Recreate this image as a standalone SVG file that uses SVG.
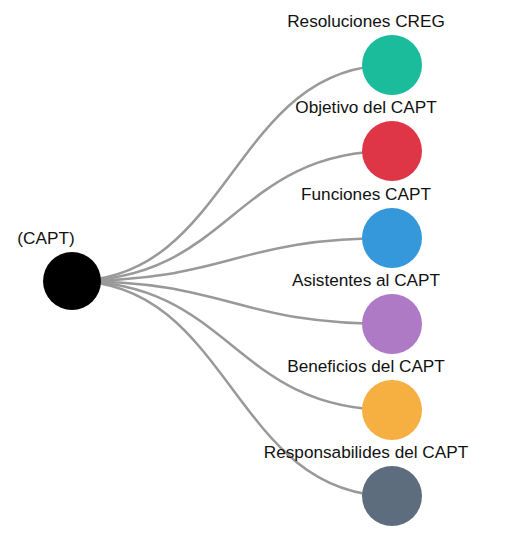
<svg xmlns="http://www.w3.org/2000/svg" width="516" height="543" viewBox="0 0 516 543">
<style>
.link{fill:none;stroke:#999;stroke-width:2.5}
.lbl{font-family:"Liberation Sans",Arial,sans-serif;font-size:17.2px;fill:#111;text-anchor:middle}
</style>
<rect width="516" height="543" fill="#fff"/>
<g id="connectors">
<path class="link" d="M72,281C232,281 232,65 392,65"/>
<path class="link" d="M72,281C232,281 232,151 392,151"/>
<path class="link" d="M72,281C232,281 232,238 392,238"/>
<path class="link" d="M72,281C232,281 232,324 392,324"/>
<path class="link" d="M72,281C232,281 232,410 392,410"/>
<path class="link" d="M72,281C232,281 232,496 392,496"/>
</g>
<g id="root"><circle cx="72" cy="281" r="29" fill="#000"/><text class="lbl" x="46" y="244">(CAPT)</text></g>
<g id="n1"><circle cx="392" cy="65" r="30" fill="#1abc9c"/><text class="lbl" x="366" y="27">Resoluciones CREG</text></g>
<g id="n2"><circle cx="392" cy="151" r="30" fill="#df3647"/><text class="lbl" x="366" y="113">Objetivo del CAPT</text></g>
<g id="n3"><circle cx="392" cy="238" r="30" fill="#3498db"/><text class="lbl" x="366" y="200">Funciones CAPT</text></g>
<g id="n4"><circle cx="392" cy="324" r="30" fill="#af7ac5"/><text class="lbl" x="366" y="286">Asistentes al CAPT</text></g>
<g id="n5"><circle cx="392" cy="410" r="30" fill="#f5b041"/><text class="lbl" x="366" y="372">Beneficios del CAPT</text></g>
<g id="n6"><circle cx="392" cy="496" r="30" fill="#5d6d7e"/><text class="lbl" x="366" y="458">Responsabilides del CAPT</text></g>
</svg>
